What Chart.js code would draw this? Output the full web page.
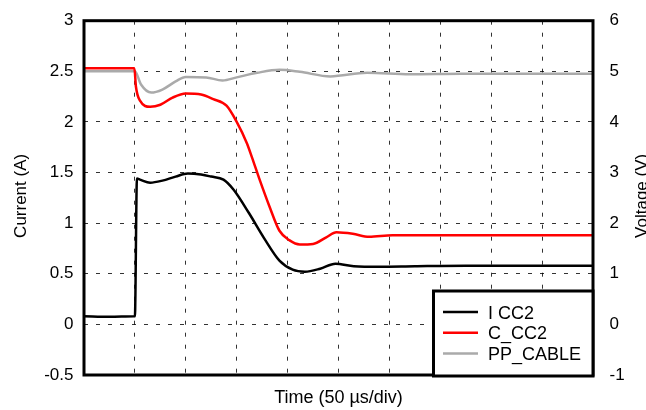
<!DOCTYPE html>
<html>
<head>
<meta charset="utf-8">
<script src="https://cdn.jsdelivr.net/npm/chart.js@4.4.1/dist/chart.umd.min.js"></script>
<style>
    html, body { margin: 0; padding: 0; background: #fff; }
    #wrap { width: 646px; height: 410px; }
</style>
</head>
<body>
<div id="wrap"><canvas id="scopeChart" width="646" height="410"></canvas></div>
<script>
// 時間軸 (µs) と各波形の値
const seriesNames = ['I CC2', 'C_CC2', 'PP_CABLE'];
const seriesColors = ['#000000', '#ff0000', '#aaaaaa'];

// I CC2 (A) - 左軸
const iccTime = [0, 25, 49, 50, 52, 55, 65, 77, 90, 102, 115, 125, 137, 147, 162, 177, 192, 205, 217, 232, 247, 265, 290, 325, 375, 425, 500];
const iccValue = [0.08, 0.075, 0.08, 0.08, 1.44, 1.43, 1.40, 1.42, 1.46, 1.49, 1.48, 1.46, 1.43, 1.33, 1.10, 0.85, 0.63, 0.54, 0.52, 0.55, 0.60, 0.575, 0.57, 0.575, 0.58, 0.58, 0.58];

// C_CC2 (V) - 右軸
const ccTime = [0, 25, 49.5, 51, 55, 65, 75, 87, 100, 115, 127, 140, 150, 160, 165, 172, 182, 192, 202, 212, 225, 238, 248, 264, 280, 303, 350, 425, 500];
const ccValue = [5.06, 5.06, 5.06, 4.70, 4.42, 4.30, 4.34, 4.48, 4.56, 4.54, 4.45, 4.32, 4.00, 3.58, 3.30, 2.89, 2.34, 1.85, 1.66, 1.58, 1.59, 1.72, 1.82, 1.79, 1.73, 1.76, 1.76, 1.76, 1.76];

// PP_CABLE (V) - 右軸
const ppTime = [0, 25, 50, 56, 66, 77, 90, 100, 120, 136, 150, 170, 192, 212, 242, 278, 320, 370, 430, 500];
const ppValue = [5.0, 5.0, 5.0, 4.74, 4.58, 4.64, 4.80, 4.89, 4.88, 4.82, 4.88, 4.97, 5.03, 4.99, 4.90, 4.97, 4.94, 4.95, 4.95, 4.95];

// 軸の目盛り
const leftMin = -0.5, leftMax = 3, leftStep = 0.5;
const rightMin = -1, rightMax = 6, rightStep = 1;
const timeMin = 0, timeMax = 500, timeStep = 50;

const axisTitles = { x: 'Time (50 \u00b5s/div)', left: 'Current (A)', right: 'Voltage (V)' };

const FONT = '"Liberation Sans", Arial, sans-serif';

function toPoints(xs, ys) {
    return xs.map((x, i) => ({ x: x, y: ys[i] }));
}

// 枠線・軸タイトル・凡例を描くプラグイン
const framePlugin = {
    id: 'framePlugin',
    afterDraw(chart) {
        const ctx = chart.ctx;
        const a = chart.chartArea;
        ctx.save();

        // 外枠
        ctx.strokeStyle = '#000';
        ctx.lineWidth = 3;
        ctx.strokeRect(a.left, a.top, a.right - a.left, a.bottom - a.top);

        // 軸タイトル
        ctx.fillStyle = '#000';
        ctx.textAlign = 'center';
        ctx.textBaseline = 'alphabetic';
        ctx.font = '18px ' + FONT;
        ctx.fillText(axisTitles.x, (a.left + a.right) / 2, 403);

        ctx.font = '17px ' + FONT;
        ctx.textBaseline = 'middle';
        const midY = (a.top + a.bottom) / 2;
        ctx.save();
        ctx.translate(21, midY - 2);
        ctx.rotate(-Math.PI / 2);
        ctx.fillText(axisTitles.left, 0, 0);
        ctx.restore();

        ctx.save();
        ctx.translate(642, midY - 2);
        ctx.rotate(-Math.PI / 2);
        ctx.fillText(axisTitles.right, 0, 0);
        ctx.restore();

        // 凡例 (右下)
        const bx = 433.5, by = 291, bw = 159.5, bh = 85;
        ctx.fillStyle = '#fff';
        ctx.fillRect(bx, by, bw, bh);
        ctx.strokeStyle = '#000';
        ctx.lineWidth = 3;
        ctx.strokeRect(bx, by, bw, bh);

        ctx.textAlign = 'left';
        ctx.textBaseline = 'alphabetic';
        ctx.font = '18px ' + FONT;
        chart.data.datasets.forEach((ds, i) => {
            const y = 312 + i * 20.8;
            ctx.strokeStyle = ds.borderColor;
            ctx.lineWidth = 2.5;
            ctx.beginPath();
            ctx.moveTo(443, y);
            ctx.lineTo(478, y);
            ctx.stroke();
            ctx.fillStyle = '#000';
            ctx.fillText(ds.label, 488, y + 6.5);
        });

        ctx.restore();
    }
};

const gridStyle = {
    color: 'rgba(0,0,0,0.8)',
    lineWidth: 1,
    drawTicks: false
};

new Chart(document.getElementById('scopeChart'), {
    type: 'line',
    data: {
        datasets: [
            {
                label: seriesNames[0],
                data: toPoints(iccTime, iccValue),
                borderColor: seriesColors[0],
                yAxisID: 'y'
            },
            {
                label: seriesNames[1],
                data: toPoints(ccTime, ccValue),
                borderColor: seriesColors[1],
                yAxisID: 'y2'
            },
            {
                label: seriesNames[2],
                data: toPoints(ppTime, ppValue),
                borderColor: seriesColors[2],
                yAxisID: 'y2'
            }
        ]
    },
    options: {
        responsive: false,
        animation: false,
        devicePixelRatio: 1,
        layout: { padding: { top: 15, left: 0, right: 0, bottom: 0 } },
        elements: {
            point: { radius: 0 },
            line: { borderWidth: 2.5, cubicInterpolationMode: 'monotone' }
        },
        plugins: {
            legend: { display: false },
            tooltip: { enabled: false }
        },
        scales: {
            x: {
                type: 'linear',
                min: timeMin,
                max: timeMax,
                ticks: { stepSize: timeStep, display: false },
                grid: Object.assign({}, gridStyle),
                border: { display: false, dash: [4, 8] },
                afterFit(scale) { scale.height = 35; }
            },
            y: {
                position: 'left',
                min: leftMin,
                max: leftMax,
                ticks: {
                    stepSize: leftStep,
                    padding: 10.5,
                    color: '#000',
                    font: { family: FONT, size: 17 },
                    callback: v => String(v)
                },
                grid: Object.assign({}, gridStyle),
                border: { display: false, dash: [4, 8] },
                afterFit(scale) { scale.width = 84; }
            },
            y2: {
                position: 'right',
                min: rightMin,
                max: rightMax,
                ticks: {
                    stepSize: rightStep,
                    padding: 8.5,
                    color: '#000',
                    font: { family: FONT, size: 17 },
                    callback: v => String(v)
                },
                grid: { display: false },
                border: { display: false },
                afterFit(scale) { scale.width = 53; }
            }
        }
    },
    plugins: [framePlugin]
});
</script>
</body>
</html>
